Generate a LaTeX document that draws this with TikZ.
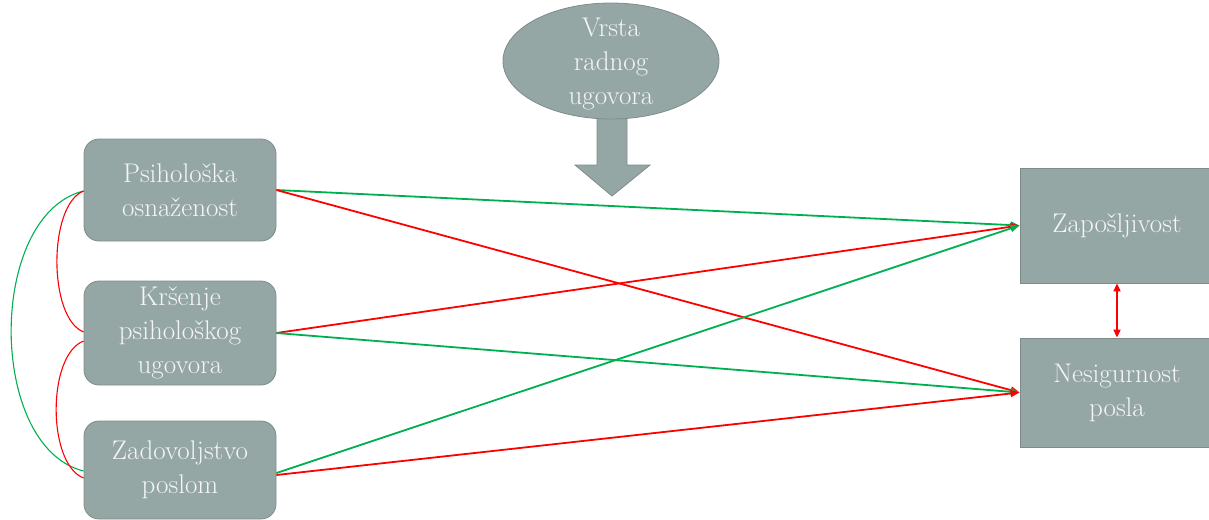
\documentclass[tikz,border=0pt]{standalone}
\usetikzlibrary{arrows.meta,shapes.geometric}
\definecolor{boxfill}{RGB}{149,167,165}
\definecolor{boxline}{RGB}{125,140,139}
\definecolor{lgreen}{RGB}{0,176,80}
\definecolor{lred}{RGB}{255,0,0}
\definecolor{txtcol}{RGB}{245,245,245}
\begin{document}
\begin{tikzpicture}[x=1pt,y=-1pt,
  txt/.style={text=txtcol,font=\fontsize{27}{34}\selectfont,align=center},
  rbox/.style={txt,fill=boxfill,draw=boxline,line width=0.8pt,rounded corners=15pt,minimum width=192pt,inner sep=0pt},
  sbox/.style={txt,fill=boxfill,draw=boxline,line width=0.8pt,minimum width=194pt,inner sep=0pt},
  garrow/.style={draw=lgreen,line width=1.8pt,-{Triangle[length=9pt,width=7pt]}},
  rarrow/.style={draw=lred,line width=1.8pt,-{Triangle[length=9pt,width=7pt]}},
  garc/.style={draw=lgreen,line width=1.1pt},
  rarc/.style={draw=lred,line width=1.1pt}]
\useasboundingbox (0,0) rectangle (1209,519);
\clip (0,0) rectangle (1209,519);
% block arrow
\draw[fill=boxfill,draw=boxline,line width=0.8pt]
  (597,110) -- (627,110) -- (627,165) -- (650,165) -- (612,196) -- (575,165) -- (597,165) -- cycle;
% ellipse
\node[txt,ellipse,fill=boxfill,draw=boxline,line width=0.8pt,minimum width=216pt,minimum height=116pt,inner sep=0pt] (vrsta) at (611,61) {};
\node[txt] (vrstat) at (611,64) {Vrsta\\radnog\\ugovora};
% left boxes
\node[rbox,minimum height=102pt] (psih) at (180,190) {Psihološka\\osnaženost};
\node[rbox,minimum height=104pt] (krs) at (180,333) {Kršenje\\psihološkog\\ugovora};
\node[rbox,minimum height=98pt] (zad) at (180,470) {Zadovoljstvo\\poslom};
% right boxes
\node[sbox,minimum height=115pt] (zap) at (1117,225.5) {Zapošljivost};
\node[sbox,minimum height=109pt] (nes) at (1117,392.5) {Nesigurnost\\posla};
% straight connectors
\draw[garrow] (psih.east) -- (zap.west);
\draw[rarrow] (psih.east) -- (nes.west);
\draw[rarrow] (krs.east) -- (zap.west);
\draw[garrow] (krs.east) -- (nes.west);
\draw[garrow] ([yshift=-3pt]zad.east) -- (zap.west);
\draw[rarrow] ([yshift=-5pt]zad.east) -- (nes.west);
\draw[draw=lred,line width=1.8pt,{Triangle[length=8pt,width=7pt]}-{Triangle[length=8pt,width=7pt]}] (zap.south) -- (nes.south |- nes.north);
% left arcs
\draw[garc] ([yshift=-1pt]psih.west) .. controls (-13,215) and (-13,447) .. ([yshift=-1pt]zad.west);
\draw[rarc] ([yshift=-1pt]psih.west) .. controls (48,205) and (48,318) .. ([yshift=1pt]krs.west);
\draw[rarc] ([yshift=-8pt]krs.west) .. controls (47,355) and (47,464) .. ([yshift=-8pt]zad.west);
\end{tikzpicture}
\end{document}
